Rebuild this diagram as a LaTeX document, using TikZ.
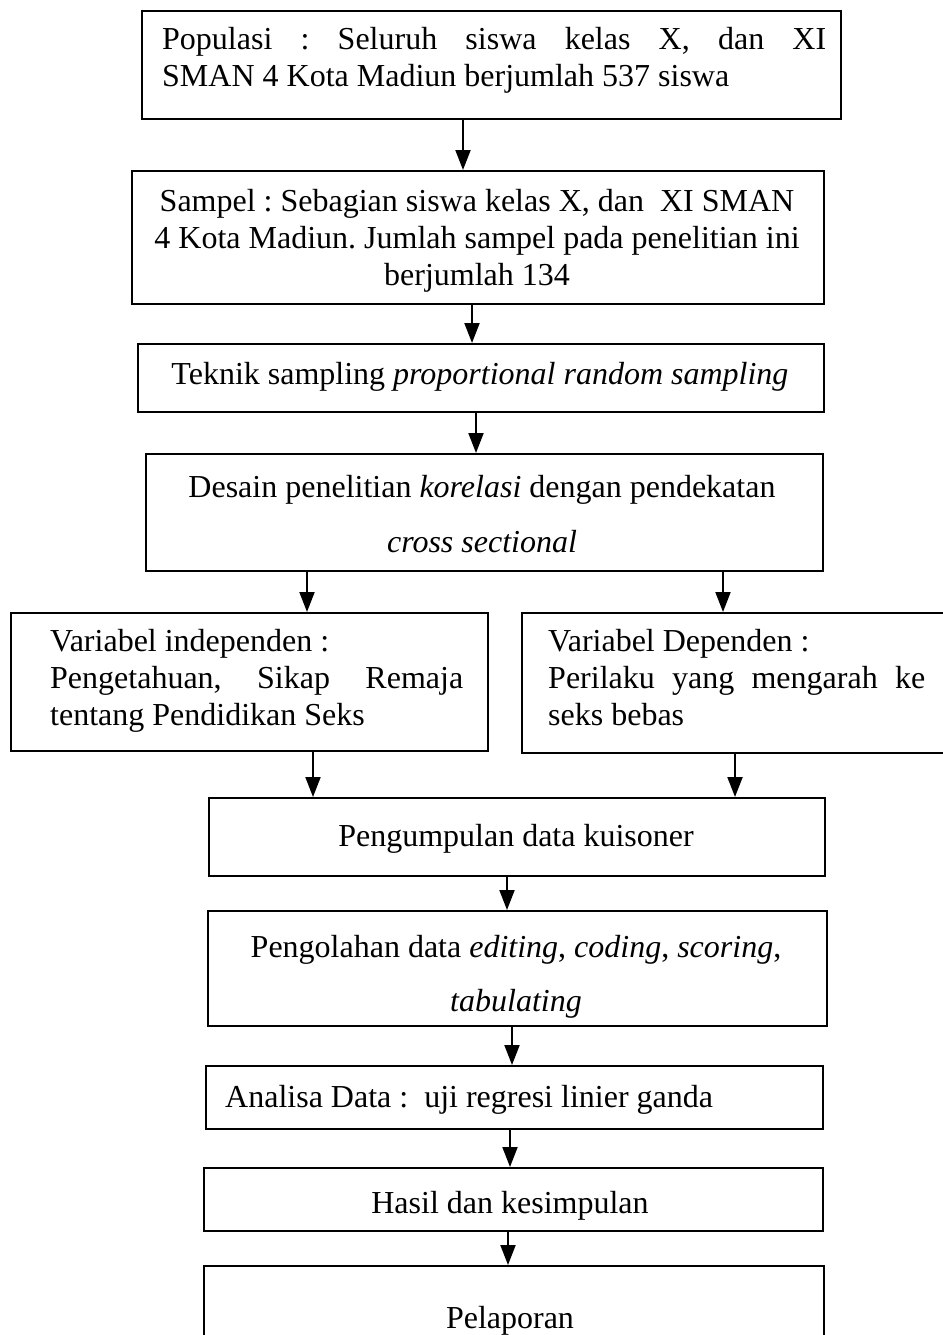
\documentclass[tikz,border=0pt]{standalone}
\usepackage{fontspec}
\setmainfont{Liberation Serif}
\usetikzlibrary{arrows.meta}
\frenchspacing
\tikzset{
  box/.style={draw, line width=2pt, inner sep=0pt, anchor=north west},
  arr/.style={line width=2pt, -{Triangle[length=20pt,width=15pt]}},
  txt/.style={inner sep=0pt, font=\fontsize{32}{37}\selectfont},
}
\begin{document}
\begin{tikzpicture}[x=1pt,y=-1pt]
\useasboundingbox (0,0) rectangle (942,1335);
% boxes
\node[box, minimum width=699pt, minimum height=108pt] (b1) at (141,10) {};
\node[box, minimum width=692pt, minimum height=133pt] (b2) at (131,170) {};
\node[box, minimum width=686pt, minimum height=68pt] (b3) at (137,343) {};
\node[box, minimum width=677pt, minimum height=117pt] (b4) at (145,453) {};
\node[box, minimum width=477pt, minimum height=138pt] (b5) at (10,612) {};
\node[box, minimum width=430pt, minimum height=140pt] (b6) at (521,612) {};
\node[box, minimum width=616pt, minimum height=78pt] (b7) at (208,797) {};
\node[box, minimum width=619pt, minimum height=115pt] (b8) at (207,910) {};
\node[box, minimum width=617pt, minimum height=63pt] (b9) at (205,1065) {};
\node[box, minimum width=619pt, minimum height=63pt] (b10) at (203,1167) {};
\node[box, minimum width=620pt, minimum height=100pt] (b11) at (203,1265) {};
% texts
\node[txt, anchor=base west] (t1a) at (162,50) {\makebox[664pt][s]{Populasi : Seluruh siswa kelas X, dan XI}};
\node[txt, anchor=base west] (t1b) at (162,87) {SMAN 4 Kota Madiun berjumlah 537 siswa};
\node[txt, anchor=base] (t2a) at (477,211) {Sampel : Sebagian siswa kelas X, dan\ \ XI SMAN};
\node[txt, anchor=base] (t2b) at (477,248) {4 Kota Madiun. Jumlah sampel pada penelitian ini};
\node[txt, anchor=base] (t2c) at (477,285) {berjumlah 134};
\node[txt, anchor=base] (t3) at (480,384) {Teknik sampling \textit{proportional random sampling}};
\node[txt, anchor=base] (t4a) at (482,497) {Desain penelitian \textit{korelasi} dengan pendekatan};
\node[txt, anchor=base] (t4b) at (482,552) {\textit{cross sectional}};
\node[txt, anchor=base west] (t5a) at (50,651) {Variabel independen :};
\node[txt, anchor=base west] (t5b) at (50,688) {\makebox[413pt][s]{Pengetahuan, Sikap Remaja}};
\node[txt, anchor=base west] (t5c) at (50,725) {tentang Pendidikan Seks};
\node[txt, anchor=base west] (t6a) at (548,651) {Variabel Dependen :};
\node[txt, anchor=base west] (t6b) at (548,688) {\makebox[377pt][s]{Perilaku yang mengarah ke}};
\node[txt, anchor=base west] (t6c) at (548,725) {seks bebas};
\node[txt, anchor=base] (t7) at (516,846) {Pengumpulan data kuisoner};
\node[txt, anchor=base] (t8a) at (516,957) {Pengolahan data \textit{editing}, \textit{coding}, \textit{scoring},};
\node[txt, anchor=base] (t8b) at (516,1011) {\textit{tabulating}};
\node[txt, anchor=base west] (t9) at (225,1107) {Analisa Data :\ \ uji regresi linier ganda};
\node[txt, anchor=base] (t10) at (510,1213) {Hasil dan kesimpulan};
\node[txt, anchor=base] (t11) at (510,1328) {Pelaporan};
% arrows
\coordinate (c1) at (463,0);
\coordinate (c2) at (472,0);
\coordinate (c3) at (476,0);
\coordinate (c4l) at (307,0);
\coordinate (c4r) at (723,0);
\coordinate (c5l) at (313,0);
\coordinate (c5r) at (735,0);
\coordinate (c7) at (507,0);
\coordinate (c8) at (512,0);
\coordinate (c9) at (510,0);
\coordinate (c10) at (508,0);
\draw[arr] (b1.south -| c1) -- (b2.north -| c1);
\draw[arr] (b2.south -| c2) -- (b3.north -| c2);
\draw[arr] (b3.south -| c3) -- (b4.north -| c3);
\draw[arr] (b4.south -| c4l) -- (b5.north -| c4l);
\draw[arr] (b4.south -| c4r) -- (b6.north -| c4r);
\draw[arr] (b5.south -| c5l) -- (b7.north -| c5l);
\draw[arr] (b6.south -| c5r) -- (b7.north -| c5r);
\draw[arr] (b7.south -| c7) -- (b8.north -| c7);
\draw[arr] (b8.south -| c8) -- (b9.north -| c8);
\draw[arr] (b9.south -| c9) -- (b10.north -| c9);
\draw[arr] (b10.south -| c10) -- (b11.north -| c10);
\end{tikzpicture}
\end{document}
